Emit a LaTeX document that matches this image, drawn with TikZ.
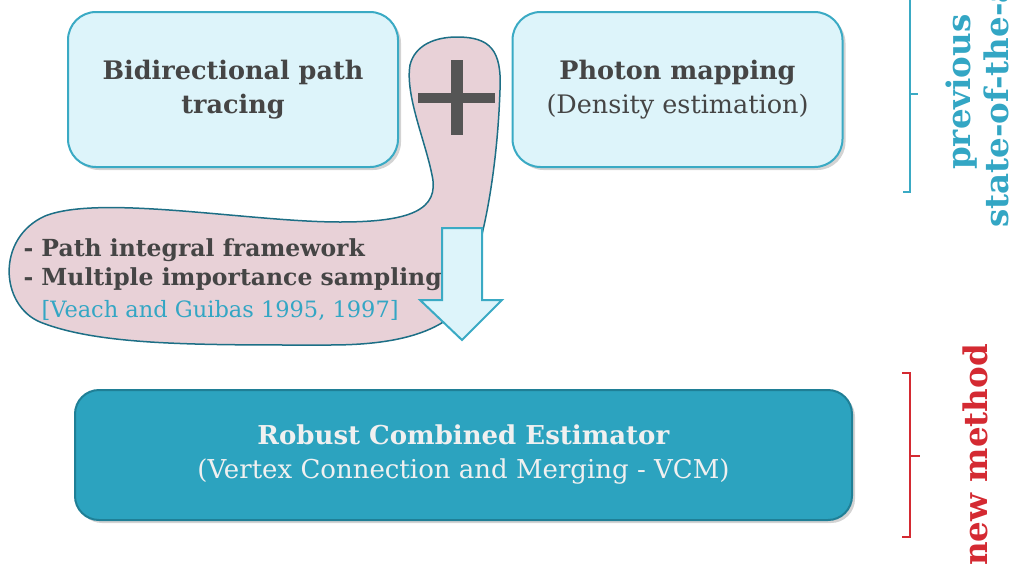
\documentclass[tikz,border=0pt]{standalone}
\usepackage{fontspec}
\setmainfont{DejaVu Serif}
\usetikzlibrary{shadows}
\definecolor{lightfill}{HTML}{DDF4FA}
\definecolor{boxborder}{HTML}{3AAAC4}
\definecolor{textgray}{HTML}{454545}
\definecolor{pinkfill}{HTML}{E8D1D7}
\definecolor{blobborder}{HTML}{1D6F86}
\definecolor{darkbox}{HTML}{2CA3BF}
\definecolor{darkboxborder}{HTML}{1F7F96}
\definecolor{newred}{HTML}{D42A32}
\definecolor{tealtext}{HTML}{33A6C4}
\definecolor{plusgray}{HTML}{555555}
\tikzset{
  lightbox/.style={draw=boxborder, line width=2pt, fill=lightfill, rounded corners=28pt,
    minimum width=330pt, minimum height=155pt, align=center, text=textgray,
    drop shadow={shadow xshift=3pt, shadow yshift=-3pt, opacity=0.35}},
  bigbox/.style={draw=darkboxborder, line width=2pt, fill=darkbox, rounded corners=24pt,
    minimum width=777pt, minimum height=130pt, align=center, text=white!94!black,
    drop shadow={shadow xshift=3pt, shadow yshift=-3pt, opacity=0.35}},
  maintext/.style={font=\fontsize{25.5}{34}\selectfont},
  blobbold/.style={anchor=base west, text=textgray, font=\fontsize{23.5}{28}\selectfont\bfseries},
  sidetext/.style={font=\fontsize{32.5}{36}\selectfont\bfseries, rotate=90, inner sep=0pt},
}
\begin{document}
\begin{tikzpicture}[x=1pt,y=-1pt]
\useasboundingbox (0,0) rectangle (1013,568);
\clip (0,0) rectangle (1013,568);
% top boxes
\node[lightbox, maintext] (bpt) at (233,89.5) {\textbf{Bidirectional path}\\\textbf{tracing}};
\node[lightbox, maintext] (pm) at (677.5,89.5) {\textbf{Photon mapping}\\(Density estimation)};
% blob
\draw[blobborder, line width=1.5pt, fill=pinkfill]
  (457,37) .. controls (490,37) and (502,50) .. (500,90)
  .. controls (498,150) and (490,200) .. (483,230)
  -- (468,300)
  .. controls (450,322) and (420,345) .. (330,345)
  .. controls (200,345) and (100,346) .. (40,322)
  .. controls (0,305) and (-4,238) .. (45,216)
  .. controls (100,194) and (250,222) .. (340,222)
  .. controls (410,222) and (440,210) .. (432,175)
  .. controls (425,140) and (405,95) .. (410,65)
  .. controls (415,45) and (435,37) .. (457,37) -- cycle;
% plus
\fill[plusgray] (451,60) rectangle (463,135);
\fill[plusgray] (418,93) rectangle (495,103);
% blob text
\node[blobbold] (l1) at (20,256) {- Path integral framework};
\node[blobbold] (l2) at (20,285) {- Multiple importance sampling};
\node[anchor=base west, text=tealtext, font=\fontsize{22.5}{28}\selectfont] (l3) at (38,317) {[Veach and Guibas 1995, 1997]};
% arrow
\coordinate (atip) at (462,340);
\draw[boxborder, line width=2pt, fill=lightfill, line join=miter]
  (442,228) -- (482,228) -- (482,300) -- (502,300) -- (atip) -- (420,300) -- (442,300) -- cycle;
% big box
\node[bigbox, font=\fontsize{26}{34}\selectfont] (vcm) at (463.5,455) {\textbf{Robust Combined Estimator}\\(Vertex Connection and Merging - VCM)};
% brackets
\draw[boxborder, line width=2pt] (903,192) -- (910,192) -- (910,-5);
\draw[boxborder, line width=2pt] (910,94) -- (918,94);
\draw[newred, line width=2pt] (902,373) -- (910,373) -- (910,537) -- (902,537);
\draw[newred, line width=2pt] (910,456) -- (920,456);
\node[sidetext, text=tealtext, anchor=base west] (prev) at (970,170) {previous};
\node[sidetext, text=tealtext, anchor=base west] (sota) at (1008,228) {state-of-the-art};
\node[sidetext, text=newred, anchor=base west] (newm) at (987,566) {new method};
\end{tikzpicture}
\end{document}
